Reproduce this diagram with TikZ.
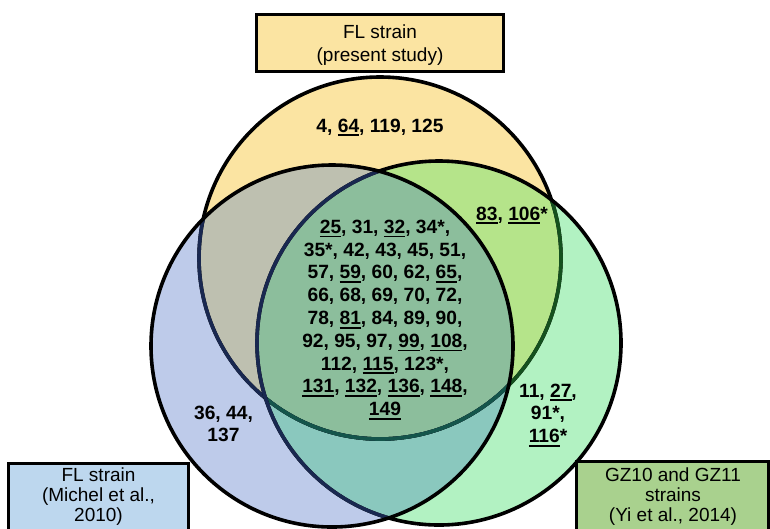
\documentclass[tikz,border=0pt]{standalone}
\usepackage{fontspec}
\setmainfont{Liberation Sans}
\definecolor{cY}{RGB}{251,228,162}
\definecolor{cB}{RGB}{190,203,234}
\definecolor{cG}{RGB}{178,242,194}
\definecolor{cYG}{RGB}{181,228,138}
\definecolor{cYB}{RGB}{190,192,176}
\definecolor{cGB}{RGB}{138,200,190}
\definecolor{cYGB}{RGB}{140,190,156}
\definecolor{cNV}{RGB}{25,40,80}
\definecolor{cDG}{RGB}{20,80,30}
\definecolor{cDT}{RGB}{20,85,75}
\definecolor{bxY}{RGB}{251,228,162}
\definecolor{bxB}{RGB}{189,215,238}
\definecolor{bxG}{RGB}{169,209,142}
\newcommand\ux[1]{\setbox0\hbox{#1}\rlap{\rule[-4pt]{\wd0}{1.8pt}}\box0}
\newcommand\blk[1]{\begin{tabular}[t]{@{}c@{}}#1\end{tabular}}
\begin{document}
\begin{tikzpicture}[x=1pt,y=-1pt,
  numtxt/.style={inner sep=0pt, anchor=base, font=\bfseries\fontsize{19.2}{22.8}\selectfont},
  boxtxt/.style={inner sep=0pt, anchor=base, font=\fontsize{19}{20.3}\selectfont},
  lbl/.style={draw=black, line width=3.2pt},
  ring/.style={line width=3.6pt}]
\useasboundingbox (0,0) rectangle (770,528);
\coordinate (cy) at (380,258);
\coordinate (cb) at (332,346);
\coordinate (cg) at (439,343);
% fills
\fill[cY] (cy) circle[radius=181pt];
\fill[cG] (cg) circle[radius=182pt];
\fill[cB] (cb) circle[radius=181pt];
\begin{scope}
  \clip (cg) circle[radius=182pt];
  \fill[cGB] (cb) circle[radius=181pt];
\end{scope}
\begin{scope}
  \clip (cy) circle[radius=181pt];
  \fill[cYG] (cg) circle[radius=182pt];
  \fill[cYB] (cb) circle[radius=181pt];
  \clip (cg) circle[radius=182pt];
  \fill[cYGB] (cb) circle[radius=181pt];
\end{scope}
% yellow outline
\draw[ring, black] (cy) circle[radius=181pt];
\begin{scope}
  \clip (cg) circle[radius=182pt];
  \draw[ring, cDG] (cy) circle[radius=181pt];
\end{scope}
\begin{scope}
  \clip (cb) circle[radius=181pt];
  \draw[ring, cNV] (cy) circle[radius=181pt];
  \clip (cg) circle[radius=182pt];
  \draw[ring, cDT] (cy) circle[radius=181pt];
\end{scope}
% green outline
\draw[ring, black] (cg) circle[radius=182pt];
\begin{scope}
  \clip (cb) circle[radius=181pt];
  \draw[ring, cNV] (cg) circle[radius=182pt];
\end{scope}
% blue outline
\draw[ring, black] (cb) circle[radius=181pt];
% numbers
\node[numtxt] (tY) at (380,132) {4, \ux{64}, 119, 125};
\node[numtxt] (tYG) at (512,220) {\ux{83}, \ux{106}*};
\node[numtxt] (tB) at (223.5,419) {\blk{36, 44,\\137}};
\node[numtxt] (tG) at (548,397) {\blk{11, \ux{27},\\91*,\\\ux{116}*}};
\node[numtxt] (tC) at (385,233.3) {\blk{\ux{25}, 31, \ux{32}, 34*,\\35*, 42, 43, 45, 51,\\57, \ux{59}, 60, 62, \ux{65},\\66, 68, 69, 70, 72,\\78, \ux{81}, 84, 89, 90,\\92, 95, 97, \ux{99}, \ux{108},\\112, \ux{115}, 123*,\\\ux{131}, \ux{132}, \ux{136}, \ux{148},\\\ux{149}}};
% label boxes
\draw[lbl, fill=bxY] (256.6,14.6) rectangle (503.4,71.4);
\node[boxtxt, font=\fontsize{19}{23}\selectfont] (lY) at (380,38) {\blk{FL strain\\(present study)}};
\draw[lbl, fill=bxB] (8.6,463.3) rectangle (188.4,545);
\node[boxtxt] (lB) at (98.5,481) {\blk{FL strain\\(Michel et al.,\\2010)}};
\draw[lbl, fill=bxG] (576.6,461.6) rectangle (768.4,545);
\node[boxtxt] (lG) at (673,481) {\blk{GZ10 and GZ11\\strains\\(Yi et al., 2014)}};
\end{tikzpicture}
\end{document}
